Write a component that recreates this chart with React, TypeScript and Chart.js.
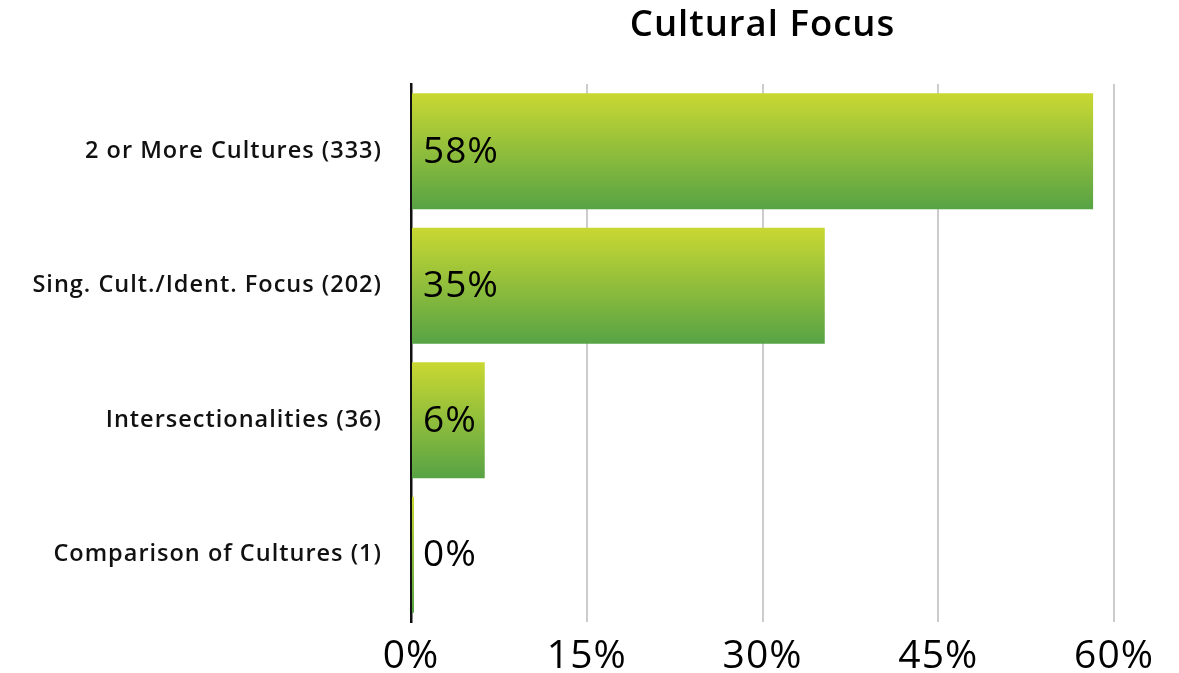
import React, { useEffect, useRef } from "react";
import { Chart, registerables } from "chart.js";

Chart.register(...registerables);

const chartTitle = "Cultural Focus";
const categories = [
  "2 or More Cultures (333)",
  "Sing. Cult./Ident. Focus (202)",
  "Intersectionalities (36)",
  "Comparison of Cultures (1)",
];
const counts = [333, 202, 36, 1];
const total = counts.reduce((a, b) => a + b, 0);
const percents = counts.map((c) => (c / total) * 100);
const tickValues = [0, 15, 30, 45, 60];

const FONT = "'Open Sans', 'Noto Sans', sans-serif";
const BAR_PCT = 0.862;

const spacingAndText = {
  id: "spacingAndText",
  beforeDraw(chart: any) {
    chart.ctx.letterSpacing = "1px";
  },
  afterDatasetsDraw(chart: any) {
    const { ctx, chartArea } = chart;
    const meta = chart.getDatasetMeta(0);
    ctx.save();
    ctx.letterSpacing = "1px";
    ctx.fillStyle = "#000";
    ctx.font = `500 37px ${FONT}`;
    ctx.textBaseline = "middle";
    ctx.textAlign = "left";
    meta.data.forEach((el: any, i: number) => {
      ctx.fillText(Math.round(percents[i]) + "%", chartArea.left + 12, el.y + 1);
    });
    ctx.restore();
  },
  afterDraw(chart: any) {
    const { ctx, chartArea } = chart;
    ctx.save();
    ctx.letterSpacing = "1px";
    ctx.fillStyle = "#000";
    ctx.font = `600 36.5px ${FONT}`;
    ctx.textBaseline = "middle";
    ctx.textAlign = "center";
    ctx.fillText(chartTitle, (chartArea.left + chartArea.right) / 2, 26);
    ctx.restore();
  },
};

export default function App() {
  const ref = useRef<HTMLCanvasElement>(null);
  useEffect(() => {
    document.body.style.margin = "0";
    const chart = new Chart(ref.current!, {
      type: "bar",
      data: {
        labels: categories,
        datasets: [
          {
            data: percents,
            categoryPercentage: 1,
            barPercentage: BAR_PCT,
            borderWidth: 0,
            minBarLength: 3,
            backgroundColor: (c: any) => {
              const ch = c.chart;
              const ys = ch.scales && ch.scales.y;
              if (!ch.chartArea || !ys) return "#8cbd3c";
              const band = (ys.bottom - ys.top) / categories.length;
              const center = ys.getPixelForValue(c.dataIndex);
              const half = (band * BAR_PCT) / 2;
              const g = ch.ctx.createLinearGradient(0, center - half, 0, center + half);
              g.addColorStop(0, "#c9d832");
              g.addColorStop(1, "#57a345");
              return g;
            },
          },
        ],
      },
      options: {
        indexAxis: "y",
        animation: false,
        responsive: false,
        maintainAspectRatio: false,
        layout: { padding: { left: 0, right: 65, top: 84, bottom: 0 } },
        plugins: {
          legend: { display: false },
          tooltip: { enabled: false },
          title: { display: false },
        },
        scales: {
          x: {
            min: 0,
            max: 60,
            afterBuildTicks: (s: any) => {
              s.ticks = tickValues.map((v) => ({ value: v }));
            },
            afterFit: (s: any) => {
              s.height = 51;
            },
            ticks: {
              color: "#000",
              font: { family: FONT, size: 39, weight: "500" as any },
              padding: 11,
              maxRotation: 0,
              callback: (v: any) => v + "%",
            },
            grid: { color: "#cccccc", lineWidth: 2, drawTicks: false },
            border: { display: false },
          },
          y: {
            afterFit: (s: any) => {
              s.width = 411;
            },
            ticks: {
              color: "#111",
              font: { family: FONT, size: 23.5, weight: "600" as any },
              padding: 29,
            },
            grid: { display: false, drawTicks: false },
            border: { display: true, color: "#111", width: 2.5 },
          },
        },
      },
      plugins: [spacingAndText],
    });
    return () => chart.destroy();
  }, []);
  return (
    <div style={{ width: 1179, height: 673, background: "#fff" }}>
      <canvas ref={ref} width={1179} height={673} style={{ display: "block" }} />
    </div>
  );
}
